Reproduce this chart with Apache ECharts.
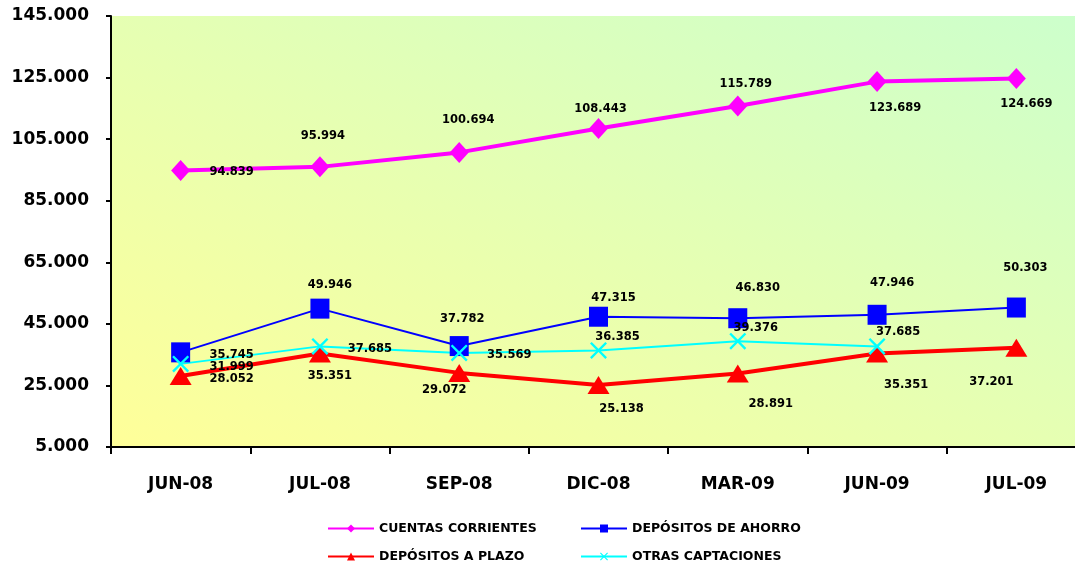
<!DOCTYPE html>
<html><head><meta charset="utf-8">
<script src="https://cdn.jsdelivr.net/npm/echarts@6/dist/echarts.min.js"></script>
<style>html,body{margin:0;padding:0;background:#fff}#c{width:1075px;height:563px}</style>
</head><body><div id="c"></div>
<script>
const categories = ['JUN-08','JUL-08','SEP-08','DIC-08','MAR-09','JUN-09','JUL-09'];
const yTicks = [5000, 25000, 45000, 65000, 85000, 105000, 125000, 145000];
const cuentasCorrientes = [94839, 95994, 100694, 108443, 115789, 123689, 124669];
const depositosAhorro = [35745, 49946, 37782, 47315, 46830, 47946, 50303];
const depositosPlazo = [28052, 35351, 29072, 25138, 28891, 35351, 37201];
const otrasCaptaciones = [31999, 37685, 35569, 36385, 39376, 37685, null];
const seriesNames = ['CUENTAS CORRIENTES','DEPÓSITOS DE AHORRO','DEPÓSITOS A PLAZO','OTRAS CAPTACIONES'];

// label offsets (pixels from the marker) – styling only
const offPink = [[51,2],[3,-31],[9,-32],[2,-20],[8,-22],[18,26],[10,25]];
const offBlue = [[51,3],[10,-24],[3,-27],[15,-19],[20,-30],[15,-32],[9,-40]];
const offRed  = [[51,3],[10,22],[-15,17],[23,24],[33,31],[29,31],[-25,34]];
const offCyan = [[51,3],[50,3],[50,2],[19,-13],[18,-13],[21,-14],[0,0]];

const fmt = v => v.toLocaleString('de-DE');
const FONT = 'DejaVu Sans';
function withLabels(vals, offs){
  return vals.map((v,i)=> v==null ? null : ({
    value: v,
    label: {show:true, position:'inside', offset: offs[i], formatter: fmt(v),
            color:'#000', fontFamily: FONT, fontWeight:'bold', fontSize: 11.5}
  }));
}
const xShape = 'path://M0,1 L1,0 L5,4 L9,0 L10,1 L6,5 L10,9 L9,10 L5,6 L1,10 L0,9 L4,5 Z';

// plot box used for the diagonal background gradient (Excel style: equal colour along the anti-diagonal)
const PW = 975, PH = 431;
const s = PH*PH/(PH*PH+PW*PW), t = PW*PW/(PH*PH+PW*PW);

const chart = echarts.init(document.getElementById('c'), null, {renderer:'canvas'});
const legendBase = {itemWidth:46, itemHeight:10, itemGap:10, padding:0,
  textStyle:{fontFamily:FONT, fontWeight:'bold', fontSize:12.5, color:'#000'}};
chart.setOption({
  animation:false,
  backgroundColor:'#ffffff',
  grid:{left:111, width:PW, top:16, height:PH, show:true, borderWidth:0,
    outerBoundsMode:'none', containLabel:false,
    backgroundColor:{type:'linear', x:0.5-s, y:0.5+t, x2:0.5+s, y2:0.5-t,
      colorStops:[{offset:0,color:'#FFFF99'},{offset:1,color:'#CCFFCC'}]}},
  legend:[
    Object.assign({data:[seriesNames[0]], left:327, top:522}, legendBase),
    Object.assign({data:[seriesNames[1]], left:580, top:522}, legendBase),
    Object.assign({data:[seriesNames[2]], left:327, top:550}, legendBase),
    Object.assign({data:[seriesNames[3]], left:580, top:550}, legendBase)
  ],
  xAxis:{type:'category', data:categories, boundaryGap:true,
    axisLine:{lineStyle:{color:'#000', width:2}},
    axisTick:{show:true, length:7, lineStyle:{color:'#000', width:2}},
    axisLabel:{margin:29, color:'#000', fontFamily:FONT, fontWeight:'bold', fontSize:17},
    splitLine:{show:false}},
  yAxis:{type:'value', min:yTicks[0], max:yTicks[yTicks.length-1], interval:yTicks[1]-yTicks[0],
    axisLine:{show:true, lineStyle:{color:'#000', width:2}},
    axisTick:{show:true, length:5, lineStyle:{color:'#000', width:2}},
    axisLabel:{margin:22, color:'#000', fontFamily:FONT, fontWeight:'bold', fontSize:17,
      formatter: v => fmt(v)},
    splitLine:{show:false}},
  series:[
    {name:seriesNames[0], type:'line', data:withLabels(cuentasCorrientes, offPink),
     symbol:'diamond', symbolSize:[19,21], lineStyle:{color:'#FF00FF', width:4},
     itemStyle:{color:'#FF00FF'}},
    {name:seriesNames[1], type:'line', data:withLabels(depositosAhorro, offBlue),
     symbol:'rect', symbolSize:[19,20], lineStyle:{color:'#0000FF', width:2},
     itemStyle:{color:'#0000FF'}},
    {name:seriesNames[2], type:'line', data:withLabels(depositosPlazo, offRed),
     symbol:'triangle', symbolSize:[22,18], lineStyle:{color:'#FF0000', width:4},
     itemStyle:{color:'#FF0000'}},
    {name:seriesNames[3], type:'line', data:withLabels(otrasCaptaciones, offCyan),
     symbol:xShape, symbolSize:17, lineStyle:{color:'#00FFFF', width:2},
     itemStyle:{color:'#00FFFF'}}
  ]
});
</script></body></html>
